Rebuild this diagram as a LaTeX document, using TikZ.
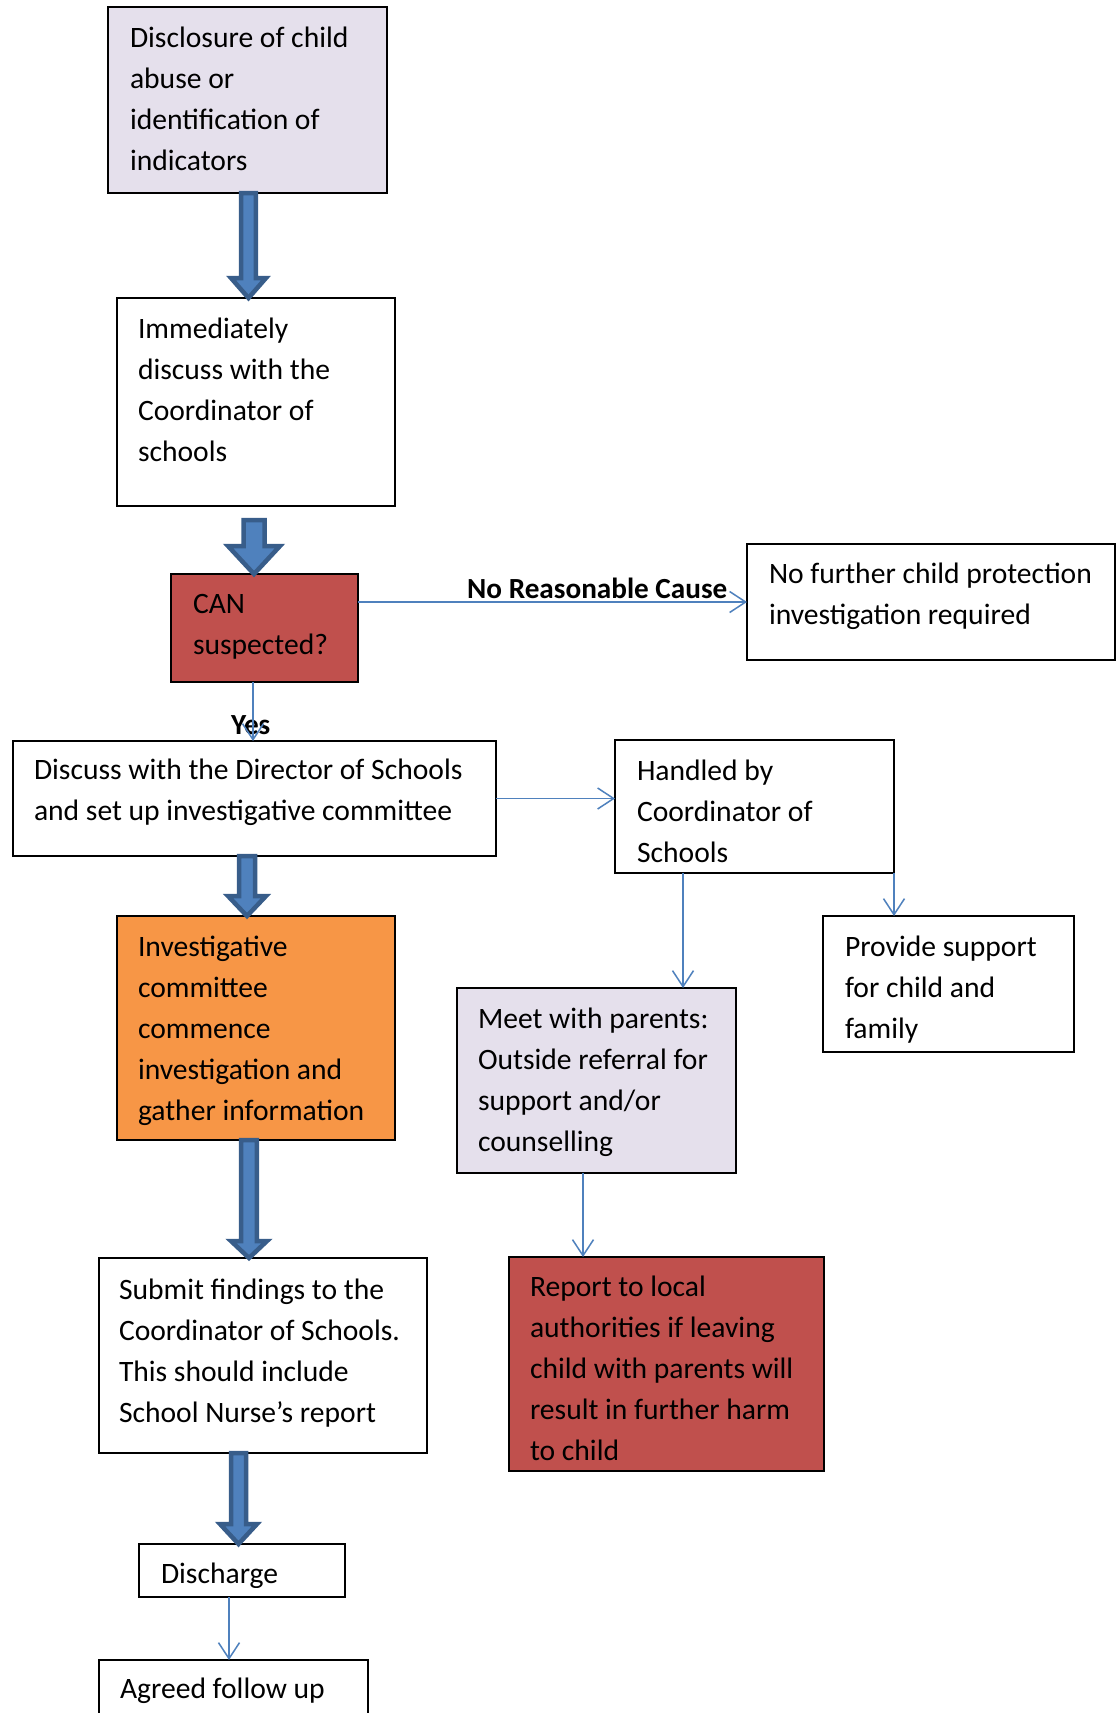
\documentclass[tikz,border=0pt]{standalone}
\usepackage{fontspec}
\setmainfont{Carlito}
\usetikzlibrary{arrows.meta,calc}
\definecolor{lav}{HTML}{E5E0EC}
\definecolor{redc}{HTML}{C0504D}
\definecolor{orng}{HTML}{F79646}
\definecolor{blu}{HTML}{4F81BD}
\definecolor{bluedark}{HTML}{385D8A}
\tikzset{
  box/.style={draw=black, line width=1.8pt, rectangle, inner sep=0pt, outer sep=0pt, anchor=north west},
  txt/.style={anchor=north west, inner sep=0pt, outer sep=0pt, text width=500pt, align=left,
    font=\fontsize{29.6}{41}\selectfont, execute at begin node={\spaceskip=0pt\xspaceskip=0pt\rule{0pt}{25pt}}},
  lbl/.style={anchor=base west, inner sep=0pt, font=\fontsize{29.2}{32}\selectfont\bfseries},
  conn/.style={draw=blu, line width=1.5pt, -{Straight Barb[length=16pt,width=21pt,line width=1.5pt]}},
  barrow/.style={fill=blu, draw=bluedark, line width=4.5pt, miter limit=10, line join=miter}
}
\newcommand\blockarr[7]{%
  \path[barrow] let \p1=(#1.south), \p2=(#2.north) in
   (#3-#4, \y1-#7) -- (#3+#4, \y1-#7) -- (#3+#4, \y2+#6) -- (#3+#5, \y2+#6) -- (#3, \y2)
   -- (#3-#5, \y2+#6) -- (#3-#4, \y2+#6) -- cycle;}
\begin{document}
\begin{tikzpicture}[x=1pt,y=-1pt]
\useasboundingbox (0,0) rectangle (1116,1713);
\clip (0,0) rectangle (1116,1713);
\fill[white] (0,0) rectangle (1116,1713);
% boxes
\node[box, fill=lav, minimum width=279pt, minimum height=186pt] (b1) at (108,7) {};
\node[box, fill=white, minimum width=278pt, minimum height=208pt] (b2) at (117,298) {};
\node[box, fill=redc, minimum width=187pt, minimum height=108pt] (can) at (171,574) {};
\node[box, fill=white, minimum width=368pt, minimum height=116pt] (nf) at (747,544) {};
\node[box, fill=white, minimum width=483pt, minimum height=115pt] (dis) at (13,741) {};
\node[box, fill=white, minimum width=279pt, minimum height=133pt] (hand) at (615,740) {};
\node[box, fill=orng, minimum width=278pt, minimum height=224pt] (inv) at (117,916) {};
\node[box, fill=white, minimum width=251pt, minimum height=136pt] (sup) at (823,916) {};
\node[box, fill=lav, minimum width=279pt, minimum height=185pt] (par) at (457,988) {};
\node[box, fill=white, minimum width=328pt, minimum height=195pt] (sub) at (99,1258) {};
\node[box, fill=redc, minimum width=315pt, minimum height=214pt] (rep) at (509,1257) {};
\node[box, fill=white, minimum width=206pt, minimum height=53pt] (dcg) at (139,1544) {};
\node[box, fill=white, minimum width=269pt, minimum height=80pt] (agr) at (99,1660) {};
% texts
\node[txt] (t1) at (130,22) {Disclosure of child\\abuse or\\identification of\\indicators};
\node[txt] (t2) at (138,313) {Immediately\\discuss with the\\Coordinator of\\schools};
\node[txt] (t3) at (193,588) {CAN\\suspected?};
\node[txt] (t4) at (769,558) {No further child protection\\investigation required};
\node[txt] (t5) at (34,754) {Discuss with the Director of Schools\\and set up investigative committee};
\node[txt] (t6) at (637,755) {Handled by\\Coordinator of\\Schools};
\node[txt] (t7) at (138,931) {Investigative\\committee\\commence\\investigation and\\gather information};
\node[txt] (t8) at (845,931) {Provide support\\for child and\\family};
\node[txt] (t9) at (478,1003) {Meet with parents:\\Outside referral for\\support and/or\\counselling};
\node[txt] (t10) at (119,1274) {Submit findings to the\\Coordinator of Schools.\\This should include\\School Nurse’s report};
\node[txt] (t11) at (530,1271) {Report to local\\authorities if leaving\\child with parents will\\result in further harm\\to child};
\begin{scope}
\clip (139,1544) rectangle (345,1587);
\node[txt] (t12) at (161,1558) {Discharge};
\end{scope}
\node[txt] (t13) at (120,1673) {Agreed follow up};
% labels
\node[lbl] (nrc) at (467,598) {No Reasonable Cause};
\node[lbl] (yes) at (231,734) {Yes};
% block arrows
\blockarr{b1}{b2}{248.5}{7.3}{17.5}{20}{0}
\blockarr{b2}{can}{254}{10.5}{26}{28}{14}
\blockarr{dis}{inv}{247}{8}{19}{20}{0}
\blockarr{inv}{sub}{249}{7.8}{18}{17}{0}
\blockarr{sub}{dcg}{238.5}{7.5}{18.5}{20}{0}
% thin connectors
\draw[conn] (nf.west -| can.east) -- (nf.west);
\coordinate (yesS) at ([xshift=-11.5]can.south);
\draw[conn] (yesS) -- (yesS |- dis.north);
\draw[conn] (dis.east) -- (dis.east -| hand.west);
\coordinate (handS) at ([xshift=-71.5]hand.south);
\draw[conn] (handS) -- (handS |- par.north);
\draw[conn] (hand.south east) -- (hand.south east |- sup.north);
\coordinate (parS) at ([xshift=-13.5]par.south);
\draw[conn] (parS) -- (parS |- rep.north);
\coordinate (dcgS) at ([xshift=-13]dcg.south);
\draw[conn] (dcgS) -- (dcgS |- agr.north);
\end{tikzpicture}
\end{document}
